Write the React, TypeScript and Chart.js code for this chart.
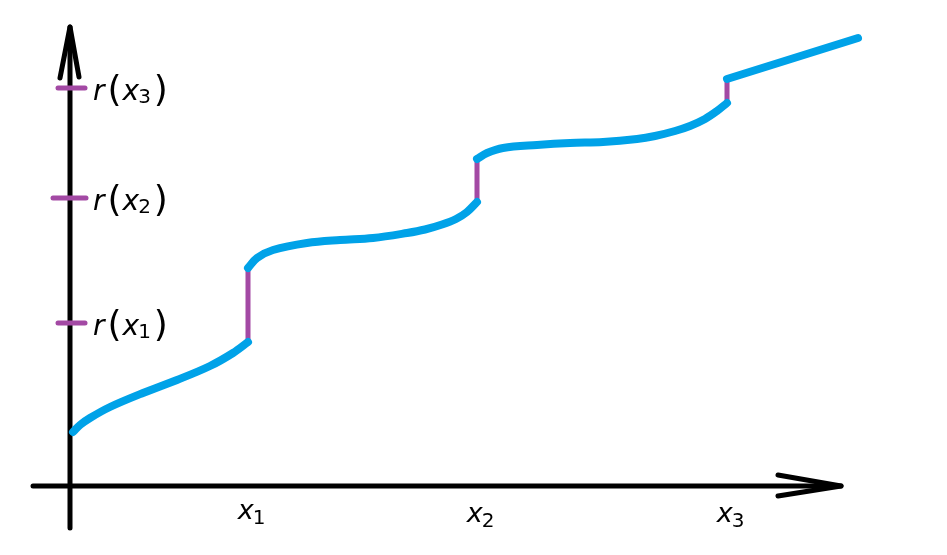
import React, { useEffect, useRef } from "react";
import { Chart, registerables } from "chart.js";

Chart.register(...registerables);

// Jump locations on the x axis and the values r(x_i) marked on the y axis
const JUMP_X = [1.78, 4.07, 6.57];
const R_VALUES = [1.63, 2.88, 3.98];
const X_TICK_SUBS = ["1", "2", "3"];
const Y_TICK_SUBS = ["1", "2", "3"];

// Curve pieces (continuous between jumps)
const seg1X = [0.03, 0.1, 0.2, 0.4, 0.73, 1.07, 1.4, 1.63, 1.78];
const seg1Y = [0.54, 0.61, 0.68, 0.79, 0.93, 1.06, 1.2, 1.33, 1.44];
const seg2X = [1.78, 1.87, 2.03, 2.37, 2.7, 3.03, 3.37, 3.55, 3.72, 3.86, 3.97, 4.07];
const seg2Y = [2.18, 2.28, 2.36, 2.43, 2.46, 2.48, 2.53, 2.565, 2.615, 2.67, 2.74, 2.84];
const seg3X = [4.07, 4.17, 4.33, 4.67, 5.0, 5.33, 5.67, 5.85, 6.05, 6.2, 6.35, 6.47, 6.57];
const seg3Y = [3.27, 3.33, 3.38, 3.41, 3.43, 3.44, 3.47, 3.5, 3.55, 3.6, 3.67, 3.75, 3.83];
const seg4X = [6.57, 7.88];
const seg4Y = [4.07, 4.48];

// Axis extents
const X_AXIS_RANGE = [-0.37, 7.71];
const Y_AXIS_RANGE = [-0.42, 4.59];

const BLUE = "#00A2E8";
const PURPLE = "#A349A4";

const pts = (xs: number[], ys: number[]) => xs.map((x, i) => ({ x, y: ys[i] }));

export default function App() {
  const ref = useRef<HTMLCanvasElement | null>(null);

  useEffect(() => {
    if (!ref.current) return;
    const segs = [
      pts(seg1X, seg1Y),
      pts(seg2X, seg2Y),
      pts(seg3X, seg3Y),
      pts(seg4X, seg4Y),
    ];
    const datasets: any[] = [];
    segs.forEach((d) =>
      datasets.push({
        data: d,
        borderColor: BLUE,
        borderWidth: 8,
        borderCapStyle: "round",
        borderJoinStyle: "round",
        tension: 0.35,
        pointRadius: 0,
        order: 0,
      })
    );
    // jumps
    const jumpEnds = [
      [seg1Y[seg1Y.length - 1], seg2Y[0]],
      [seg2Y[seg2Y.length - 1], seg3Y[0]],
      [seg3Y[seg3Y.length - 1], seg4Y[0]],
    ];
    JUMP_X.forEach((x, i) =>
      datasets.push({
        data: [
          { x, y: jumpEnds[i][0] },
          { x, y: jumpEnds[i][1] },
        ],
        borderColor: PURPLE,
        borderWidth: 5,
        borderCapStyle: "round",
        pointRadius: 0,
        tension: 0,
        order: 1,
      })
    );
    // y-axis ticks
    const tickHalf = [
      [-0.12, 0.15],
      [-0.17, 0.16],
      [-0.12, 0.15],
    ];
    R_VALUES.forEach((r, i) =>
      datasets.push({
        data: [
          { x: tickHalf[i][0], y: r },
          { x: tickHalf[i][1], y: r },
        ],
        borderColor: PURPLE,
        borderWidth: 5,
        borderCapStyle: "round",
        pointRadius: 0,
        tension: 0,
        order: 1,
      })
    );
    const axisStyle = {
      borderColor: "#000",
      borderWidth: 5,
      borderCapStyle: "round",
      borderJoinStyle: "round",
      pointRadius: 0,
      tension: 0,
      order: 2,
    };
    // y axis + arrow
    datasets.push({
      ...axisStyle,
      data: [
        { x: 0, y: Y_AXIS_RANGE[0] },
        { x: 0, y: Y_AXIS_RANGE[1] },
      ],
    });
    datasets.push({
      ...axisStyle,
      data: [
        { x: -0.1, y: 4.08 },
        { x: 0, y: Y_AXIS_RANGE[1] },
        { x: 0.09, y: 4.09 },
      ],
    });
    // x axis + arrow
    datasets.push({
      ...axisStyle,
      data: [
        { x: X_AXIS_RANGE[0], y: 0 },
        { x: X_AXIS_RANGE[1], y: 0 },
      ],
    });
    datasets.push({
      ...axisStyle,
      data: [
        { x: 7.08, y: 0.11 },
        { x: X_AXIS_RANGE[1], y: 0 },
        { x: 7.08, y: -0.1 },
      ],
    });

    const labelPlugin = {
      id: "mathLabels",
      afterDraw(chart: any) {
        const ctx = chart.ctx as CanvasRenderingContext2D;
        const xs = chart.scales.x;
        const ys = chart.scales.y;
        ctx.save();
        ctx.fillStyle = "#000";
        ctx.textBaseline = "alphabetic";
        ctx.textAlign = "left";
        const fam = '"DejaVu Sans", sans-serif';
        // y labels r(x_i)
        R_VALUES.forEach((r, i) => {
          let px = xs.getPixelForValue(0) + 23;
          const base = ys.getPixelForValue(r) + 12;
          ctx.font = `italic 28px ${fam}`;
          ctx.fillText("r", px, base);
          px += ctx.measureText("r").width + 3;
          ctx.font = `36px ${fam}`;
          ctx.fillText("(", px, base + 1);
          px += ctx.measureText("(").width + 1;
          ctx.font = `italic 28px ${fam}`;
          ctx.fillText("x", px, base);
          px += ctx.measureText("x").width - 1;
          ctx.font = `20px ${fam}`;
          ctx.fillText(Y_TICK_SUBS[i], px, base + 3);
          px += ctx.measureText(Y_TICK_SUBS[i]).width + 3;
          ctx.font = `36px ${fam}`;
          ctx.fillText(")", px, base + 1);
        });
        // x labels x_i
        JUMP_X.forEach((x, i) => {
          const base = ys.getPixelForValue(-0.34) + (i === 0 ? -1 : 2);
          ctx.font = `italic 27px ${fam}`;
          const w1 = ctx.measureText("x").width;
          ctx.font = `20px ${fam}`;
          const w2 = ctx.measureText(X_TICK_SUBS[i]).width;
          let px = xs.getPixelForValue(x) + 4 - (w1 + w2) / 2;
          ctx.font = `italic 27px ${fam}`;
          ctx.fillText("x", px, base);
          px += w1 - 1;
          ctx.font = `20px ${fam}`;
          ctx.fillText(X_TICK_SUBS[i], px, base + 5);
        });
        ctx.restore();
      },
    };

    const chart = new Chart(ref.current, {
      type: "line",
      data: { datasets },
      options: {
        animation: false,
        responsive: false,
        maintainAspectRatio: false,
        layout: { padding: 0 },
        plugins: { legend: { display: false }, tooltip: { enabled: false } },
        scales: {
          x: { type: "linear", min: -0.7, max: 8.77, display: false },
          y: { type: "linear", min: -0.69, max: 4.86, display: false },
        },
      },
      plugins: [labelPlugin],
    });
    return () => chart.destroy();
  }, []);

  return (
    <div style={{ position: "absolute", left: 0, top: 0, width: 947, height: 555, background: "#fff" }}>
      <canvas ref={ref} width={947} height={555} style={{ display: "block" }} />
    </div>
  );
}
